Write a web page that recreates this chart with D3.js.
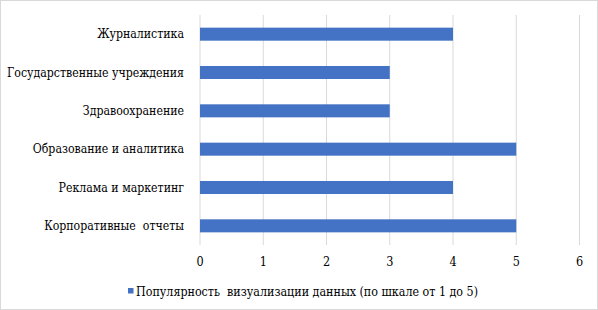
<!DOCTYPE html>
<html>
<head>
<meta charset="utf-8">
<script src="https://cdn.jsdelivr.net/npm/d3@7"></script>
<style>
  body { margin: 0; background: #fff; }
  svg text { white-space: pre; }
</style>
</head>
<body>
<svg id="chart" width="598" height="310"></svg>
<script>
// data
const categories = ["Журналистика", "Государственные учреждения", "Здравоохранение",
  "Образование и аналитика", "Реклама и маркетинг", "Корпоративные  отчеты"];
const values = [4, 3, 3, 5, 4, 5];
const ticks = [0, 1, 2, 3, 4, 5, 6];
const seriesName = "Популярность  визуализации данных (по шкале от 1 до 5)";

const W = 598, H = 310;
const margin = { top: 15, right: 18.5, bottom: 65, left: 200 };
const barColor = "#4472C4";
// Liberation Serif here has no Cyrillic, the condensed DejaVu serif is closest to the Times look
const fontFamily = "'DejaVu Serif Condensed', 'DejaVu Serif', serif";

const svg = d3.select("#chart")
  .attr("font-family", fontFamily);

// outer frame
svg.append("rect")
  .attr("x", 0.5).attr("y", 0.5)
  .attr("width", W - 1).attr("height", H - 1)
  .attr("fill", "#fff")
  .attr("stroke", "#d9d9d9");

const x = d3.scaleLinear()
  .domain([0, 6])
  .range([margin.left, W - margin.right]);

const y = d3.scaleBand()
  .domain(categories)
  .range([margin.top, H - margin.bottom])
  .paddingInner(0.66)
  .paddingOuter(0.33);

// vertical gridlines
svg.append("g")
  .selectAll("line")
  .data(ticks)
  .enter().append("line")
  .attr("x1", d => x(d)).attr("x2", d => x(d))
  .attr("y1", margin.top).attr("y2", H - margin.bottom)
  .attr("stroke", "#d9d9d9")
  .attr("stroke-width", 1);

// bars
svg.append("g")
  .selectAll("rect")
  .data(values)
  .enter().append("rect")
  .attr("x", x(0))
  .attr("y", (d, i) => y(categories[i]))
  .attr("width", d => x(d) - x(0))
  .attr("height", y.bandwidth())
  .attr("fill", barColor);

// x tick labels
svg.append("g")
  .selectAll("text")
  .data(ticks)
  .enter().append("text")
  .attr("x", d => x(d))
  .attr("y", H - margin.bottom + 17)
  .attr("dy", "0.35em")
  .attr("text-anchor", "middle")
  .attr("font-size", 12.5)
  .text(d => d);

// category labels
svg.append("g")
  .selectAll("text")
  .data(categories)
  .enter().append("text")
  .attr("x", margin.left - 16)
  .attr("y", d => y(d) + y.bandwidth() / 2)
  .attr("dy", "0.35em")
  .attr("text-anchor", "end")
  .attr("font-size", 12.2)
  .text(d => d);

// legend
const legend = svg.append("g");
legend.append("rect")
  .attr("x", 128).attr("y", 288)
  .attr("width", 5.5).attr("height", 5.5)
  .attr("fill", barColor);
legend.append("text")
  .attr("x", 136)
  .attr("y", 291.5)
  .attr("dy", "0.35em")
  .attr("font-size", 12.2)
  .attr("textLength", 342)
  .attr("lengthAdjust", "spacingAndGlyphs")
  .text(seriesName);
</script>
</body>
</html>
